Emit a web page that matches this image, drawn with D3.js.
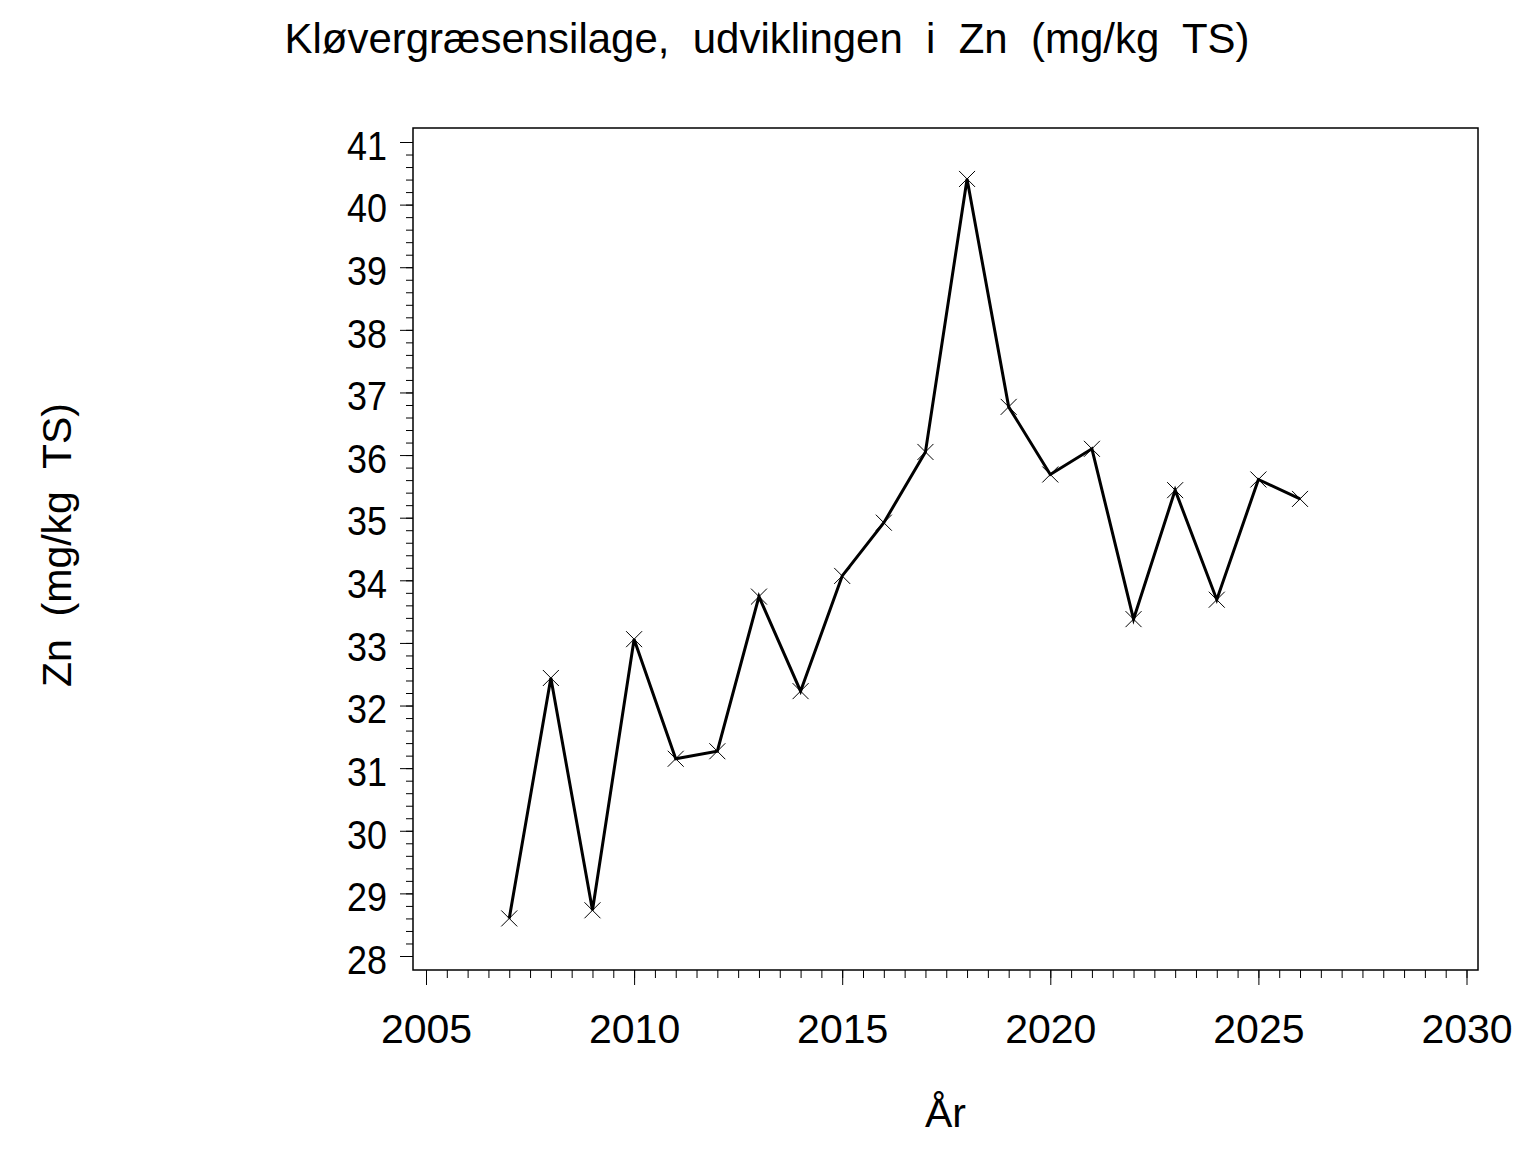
<!DOCTYPE html>
<html><head><meta charset="utf-8">
<script src="https://cdn.jsdelivr.net/npm/d3@7"></script>
<style>
html,body{margin:0;padding:0;background:#fff;}
svg{display:block;}
text{font-family:"Liberation Sans",Arial,Helvetica,sans-serif;fill:#000;}
</style></head>
<body>
<svg id="chart" width="1536" height="1152"></svg>
<script>
const years = [2007,2008,2009,2010,2011,2012,2013,2014,2015,2016,2017,2018,2019,2020,2021,2022,2023,2024,2025,2026];
const znValues = [28.60,32.44,28.73,33.06,31.15,31.27,33.74,32.23,34.07,34.92,36.05,40.41,36.77,35.69,36.10,33.38,35.44,33.69,35.61,35.30];
const xTicks = [2005,2010,2015,2020,2025,2030];
const yTicks = [28,29,30,31,32,33,34,35,36,37,38,39,40,41];
const titleText = "Kløvergræsensilage,  udviklingen  i  Zn  (mg/kg  TS)";
const yLabelText = "Zn  (mg/kg  TS)";
const xLabelText = "År";

const svg = d3.select("#chart");
const frame = {left:413, right:1478, top:128, bottom:970};

const x = d3.scaleLinear().domain([2005,2030]).range([426,1466.5]);
const y = d3.scaleLinear().domain([28,41]).range([956,142]);

// frame
svg.append("rect")
  .attr("x",frame.left).attr("y",frame.top)
  .attr("width",frame.right-frame.left).attr("height",frame.bottom-frame.top)
  .attr("fill","none").attr("stroke","#000").attr("stroke-width",1.5);

const fontSize = 41;

// Y axis minor ticks
const yMinor = d3.range(28,41.001,0.2).map(v=>+v.toFixed(1));
const yMinorAxis = svg.append("g").attr("transform",`translate(${frame.left},0)`)
  .call(d3.axisLeft(y).tickValues(yMinor).tickSize(7).tickFormat(""));
yMinorAxis.select(".domain").remove();
const yAxis = svg.append("g").attr("transform",`translate(${frame.left},0)`)
  .call(d3.axisLeft(y).tickValues(yTicks).tickSize(13).tickPadding(13).tickFormat(d3.format("d")));
yAxis.select(".domain").remove();
yAxis.selectAll("text").attr("font-size",fontSize).attr("dy","0.42em").attr("textLength",40)
  .attr("lengthAdjust","spacingAndGlyphs")
  .style("font-family","'Liberation Sans',Arial,sans-serif").attr("fill","#000");
svg.selectAll(".tick line").attr("stroke","#000").attr("stroke-width",1);

// X axis
const xMinor = d3.range(2005,2030.001,0.5);
const xMinorAxis = svg.append("g").attr("transform",`translate(0,${frame.bottom})`)
  .call(d3.axisBottom(x).tickValues(xMinor).tickSize(8).tickFormat(""));
xMinorAxis.select(".domain").remove();
const xAxis = svg.append("g").attr("transform",`translate(0,${frame.bottom})`)
  .call(d3.axisBottom(x).tickValues(xTicks).tickSize(15).tickPadding(0).tickFormat(d3.format("d")));
xAxis.select(".domain").remove();
xAxis.selectAll("text").attr("font-size",fontSize).attr("dy",null).attr("y",73)
  .style("font-family","'Liberation Sans',Arial,sans-serif").attr("fill","#000");
svg.selectAll(".tick line").attr("stroke","#000").attr("stroke-width",1);

// line
const data = years.map((yr,i)=>({yr, v:znValues[i]}));
svg.append("path").datum(data)
  .attr("d", d3.line().x(d=>x(d.yr)).y(d=>y(d.v)))
  .attr("fill","none").attr("stroke","#000").attr("stroke-width",3).attr("stroke-linejoin","miter");

// markers
const m = 8;
svg.append("g").selectAll("path.mk").data(data).join("path")
  .attr("class","mk")
  .attr("d", d=>{const cx=x(d.yr), cy=y(d.v);
    return `M${cx-m},${cy-m}L${cx+m},${cy+m}M${cx-m},${cy+m}L${cx+m},${cy-m}`;})
  .attr("stroke","#000").attr("stroke-width",1).attr("fill","none");

// title
svg.append("text").attr("x",767).attr("y",53).attr("text-anchor","middle")
  .attr("font-size",42).attr("textLength",965).attr("lengthAdjust","spacingAndGlyphs")
  .style("white-space","pre").attr("xml:space","preserve").text(titleText);

// x label
svg.append("text").attr("x",(frame.left+frame.right)/2).attr("y",1127).attr("text-anchor","middle")
  .attr("font-size",fontSize).text(xLabelText);

// y label
svg.append("text").attr("transform",`translate(71,${(frame.top+frame.bottom)/2 - 4}) rotate(-90)`)
  .attr("text-anchor","middle").attr("font-size",fontSize)
  .style("white-space","pre").attr("xml:space","preserve").text(yLabelText);
</script>
</body></html>
